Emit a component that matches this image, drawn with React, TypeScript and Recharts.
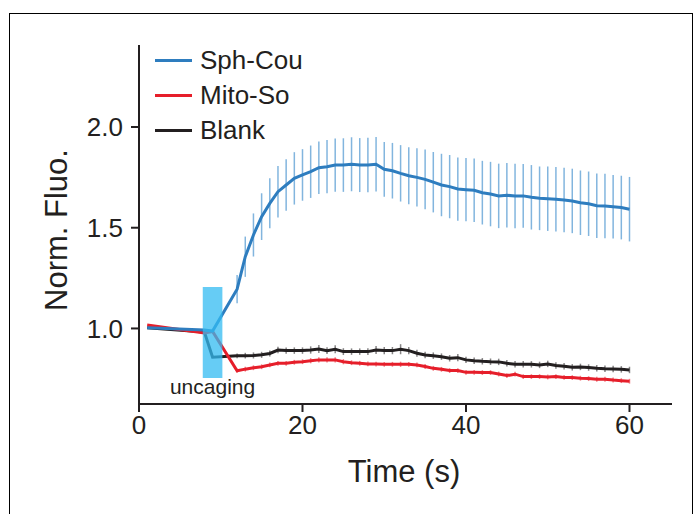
import * as React from 'react';
import { ComposedChart, Line, XAxis, YAxis, ErrorBar, ReferenceArea, Label } from 'recharts';

// sampling times (s): two baseline frames, the uncaging frame, then 1 s frames
const times = [1, 8, 9, 12, 13, 14, 15, 16, 17, 18, 19, 20, 21, 22, 23, 24, 25, 26, 27, 28, 29,
  30, 31, 32, 33, 34, 35, 36, 37, 38, 39, 40, 41, 42, 43, 44, 45, 46, 47, 48, 49, 50,
  51, 52, 53, 54, 55, 56, 57, 58, 59, 60];

const sphCou = [1.003, 0.992, 0.987,
  1.195, 1.356, 1.464, 1.555, 1.621, 1.679, 1.712, 1.745, 1.762, 1.778, 1.798, 1.803, 1.811, 1.811, 1.815, 1.811, 1.811, 1.815,
  1.790, 1.783, 1.770, 1.758, 1.750, 1.740, 1.726, 1.712, 1.704, 1.692, 1.689, 1.686, 1.674, 1.667, 1.658, 1.661,
  1.658, 1.658, 1.651, 1.646, 1.644, 1.641, 1.638, 1.633, 1.624, 1.619, 1.609, 1.608, 1.604, 1.600, 1.592];
const sphCouErr = [0, 0, 0,
  0.07, 0.1, 0.107, 0.116, 0.124, 0.128, 0.128, 0.13, 0.128, 0.13, 0.13, 0.132, 0.132, 0.133, 0.134, 0.134, 0.135, 0.135,
  0.136, 0.138, 0.14, 0.142, 0.145, 0.148, 0.15, 0.155, 0.157, 0.157, 0.157, 0.158, 0.158, 0.16, 0.16, 0.16,
  0.16, 0.158, 0.16, 0.158, 0.16, 0.16, 0.16, 0.16, 0.16, 0.16, 0.16, 0.16, 0.158, 0.158, 0.16];

const mitoSo = [1.017, 0.977, 0.985,
  0.790, 0.798, 0.805, 0.810, 0.819, 0.827, 0.827, 0.832, 0.835, 0.840, 0.844, 0.844, 0.844, 0.835, 0.830, 0.827, 0.824, 0.823,
  0.822, 0.822, 0.822, 0.822, 0.819, 0.811, 0.802, 0.797, 0.791, 0.791, 0.782, 0.782, 0.781, 0.781, 0.774, 0.766,
  0.773, 0.761, 0.761, 0.761, 0.759, 0.761, 0.757, 0.756, 0.753, 0.751, 0.748, 0.748, 0.744, 0.741, 0.738];
const mitoSoErr = [0, 0, 0,
  0.01, 0.012, 0.012, 0.012, 0.012, 0.012, 0.012, 0.012, 0.012, 0.013, 0.013, 0.013, 0.013, 0.013, 0.012, 0.012, 0.012, 0.012,
  0.012, 0.012, 0.013, 0.012, 0.012, 0.012, 0.012, 0.012, 0.012, 0.012, 0.012, 0.012, 0.012, 0.012, 0.012, 0.012,
  0.012, 0.012, 0.012, 0.012, 0.012, 0.012, 0.012, 0.012, 0.012, 0.012, 0.012, 0.012, 0.012, 0.012, 0.012];

const blank = [1.003, 0.982, 0.857,
  0.864, 0.865, 0.866, 0.869, 0.876, 0.893, 0.890, 0.890, 0.890, 0.893, 0.898, 0.890, 0.897, 0.885, 0.885, 0.885, 0.885, 0.893,
  0.890, 0.890, 0.897, 0.890, 0.877, 0.868, 0.865, 0.860, 0.852, 0.855, 0.844, 0.840, 0.837, 0.835, 0.834, 0.827,
  0.822, 0.822, 0.822, 0.819, 0.824, 0.816, 0.812, 0.807, 0.809, 0.806, 0.802, 0.800, 0.799, 0.797, 0.794];
const blankErr = [0, 0, 0,
  0.012, 0.014, 0.015, 0.015, 0.015, 0.016, 0.016, 0.016, 0.016, 0.018, 0.02, 0.017, 0.02, 0.017, 0.016, 0.016, 0.017, 0.02,
  0.018, 0.018, 0.025, 0.018, 0.017, 0.016, 0.016, 0.016, 0.016, 0.018, 0.016, 0.016, 0.016, 0.016, 0.016, 0.016,
  0.016, 0.016, 0.016, 0.016, 0.016, 0.016, 0.016, 0.016, 0.016, 0.016, 0.016, 0.016, 0.016, 0.016, 0.016];

const xTicks = [0, 20, 40, 60];
const yTicks = [1.0, 1.5, 2.0];
const uncaging = { x1: 7.8, x2: 10.2, y1: 0.754, y2: 1.206 };

const legendItems = [
  { name: 'Sph-Cou', color: '#2e7dbf' },
  { name: 'Mito-So', color: '#e61e2a' },
  { name: 'Blank', color: '#231f20' },
];

const data = times.map((t, i) => ({
  t,
  sph: sphCou[i], sphErr: sphCouErr[i],
  mito: mitoSo[i], mitoErr: mitoSoErr[i],
  blank: blank[i], blankErr: blankErr[i],
}));

const font = '"Liberation Sans", Arial, sans-serif';
const axisColor = '#231f20';

function LegendBox() {
  return (
    <div style={{ position: 'absolute', left: 155, top: 43, fontFamily: font }}>
      {legendItems.map((d) => (
        <div key={d.name} style={{ display: 'flex', alignItems: 'center', height: 35 }}>
          <div style={{ width: 37, height: 3, background: d.color, marginRight: 8 }} />
          <span style={{ fontSize: 26, color: '#231f20', lineHeight: '35px' }}>{d.name}</span>
        </div>
      ))}
    </div>
  );
}

export default function App() {
  return (
    <div style={{ position: 'absolute', left: 0, top: 0, width: 693, height: 514, overflow: 'hidden', background: '#fff' }}>
      <div style={{ position: 'absolute', left: 9, top: 13, width: 682, height: 600, border: '1.5px solid #000' }} />
      <ComposedChart
        width={693}
        height={514}
        data={data}
        margin={{ top: 45, right: 21, left: 0, bottom: 0 }}
        style={{ position: 'absolute', left: 0, top: 0 }}
      >
        <XAxis
          dataKey="t"
          type="number"
          domain={[0, 65.2]}
          ticks={xTicks}
          height={110}
          tickSize={8}
          tickMargin={4}
          stroke={axisColor}
          strokeWidth={2}
          tick={{ fill: axisColor, fontSize: 26, fontFamily: font }}
        >
          <Label
            content={() => (
              <text x={404} y={471} textAnchor="middle" dominantBaseline="central"
                style={{ fontSize: 31, fontFamily: font, fill: axisColor }}>Time (s)</text>
            )}
          />
        </XAxis>
        <YAxis
          type="number"
          domain={[0.625, 2.407]}
          ticks={yTicks}
          width={139}
          tickSize={8}
          tickMargin={8}
          stroke={axisColor}
          strokeWidth={2}
          tickFormatter={(v: number) => v.toFixed(1)}
          tick={{ fill: axisColor, fontSize: 26, fontFamily: font }}
        >
          <Label
            content={() => (
              <text x={56} y={230} textAnchor="middle" dominantBaseline="central" transform="rotate(-90 56 230)"
                style={{ fontSize: 31, fontFamily: font, fill: axisColor }}>Norm. Fluo.</text>
            )}
          />
        </YAxis>
        <Line dataKey="blank" stroke="#231f20" strokeWidth={3} dot={false} isAnimationActive={false}>
          <ErrorBar dataKey="blankErr" width={0} stroke="#231f20" strokeOpacity={0.55} strokeWidth={1.5} />
        </Line>
        <Line dataKey="mito" stroke="#e61e2a" strokeWidth={3} dot={false} isAnimationActive={false}>
          <ErrorBar dataKey="mitoErr" width={0} stroke="#e61e2a" strokeOpacity={0.55} strokeWidth={1.5} />
        </Line>
        <Line dataKey="sph" stroke="#2e7dbf" strokeWidth={3} dot={false} isAnimationActive={false}>
          <ErrorBar dataKey="sphErr" width={0} stroke="#4d95d0" strokeOpacity={0.7} strokeWidth={1.5} />
        </Line>
        <ReferenceArea
          x1={uncaging.x1}
          x2={uncaging.x2}
          y1={uncaging.y1}
          y2={uncaging.y2}
          fill="#33bbf2"
          fillOpacity={0.75}
          stroke="none"
          zIndex={1000}
          label={{ value: 'uncaging', position: 'bottom', offset: 1, fontSize: 21, fontFamily: font, fill: axisColor }}
        />
      </ComposedChart>
      <LegendBox />
    </div>
  );
}
